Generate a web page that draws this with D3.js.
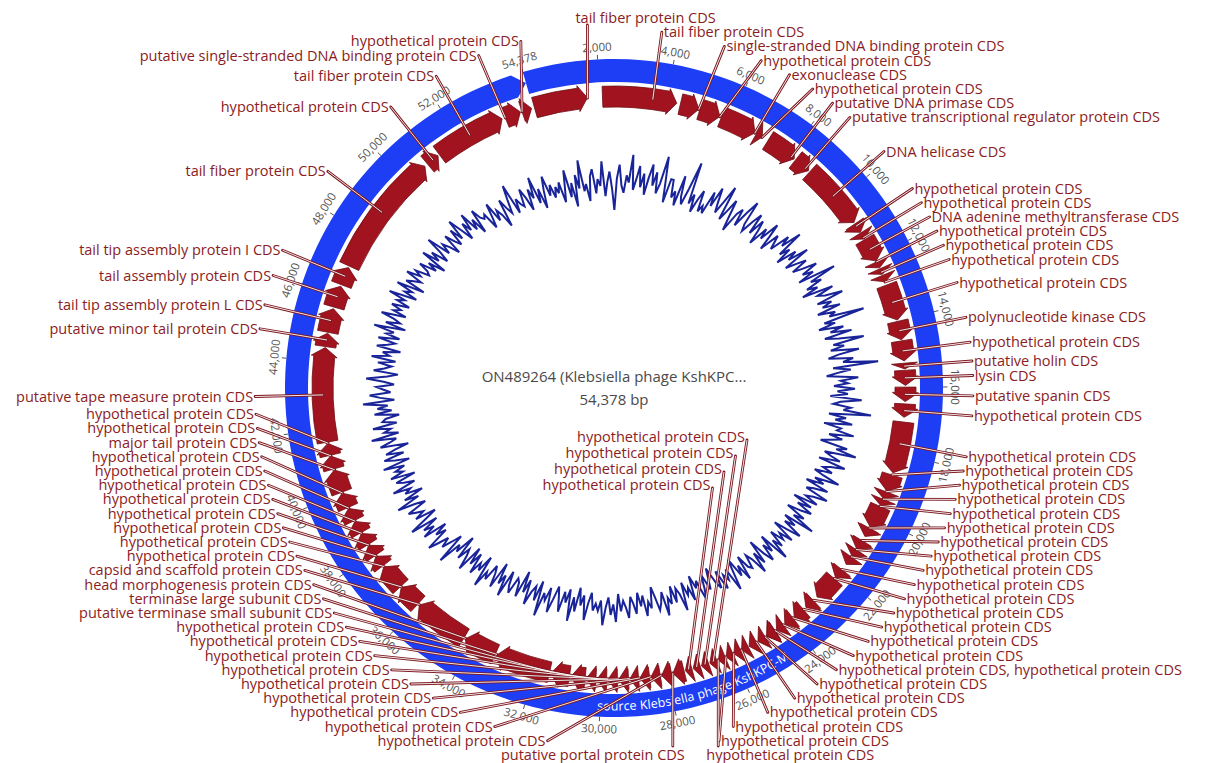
<!DOCTYPE html>
<html>
<head>
<meta charset="utf-8">
<script src="https://cdn.jsdelivr.net/npm/d3@7"></script>
<style>
  html, body { margin: 0; padding: 0; background: #fff; }
  svg { display: block; font-family: "Open Sans", "DejaVu Sans", sans-serif; }
</style>
</head>
<body>
<svg id="map" width="1214" height="763"></svg>
<script>
// ---- record ----
const genomeLength = 54378;
const recordTitle = "ON489264 (Klebsiella phage KshKPC...";
const recordSize = "54,378 bp";
const sourceLabel = "source Klebsiella phage KshKPC-M";

// ---- ruler ----
const tickValues = [2000, 4000, 6000, 8000, 10000, 12000, 14000, 16000, 18000, 20000,
  22000, 24000, 26000, 28000, 30000, 32000, 34000, 36000, 38000, 40000,
  42000, 44000, 46000, 48000, 50000, 52000];
const originLabel = "54,378";

// ---- CDS features: [start, end, product] ----
const HP = "hypothetical protein CDS";
const cdsFeatures = [
  [40, 1640, "tail fiber protein CDS"],
  [2090, 4310, "tail fiber protein CDS"],
  [4420, 4990, "single-stranded DNA binding protein CDS"],
  [5020, 5650, HP],
  [5700, 6800, "exonuclease CDS"],
  [6850, 7050, HP],
  [7250, 8200, "putative DNA primase CDS"],
  [8250, 8750, "putative transcriptional regulator protein CDS"],
  [8800, 10800, "DNA helicase CDS"],
  [10850, 11150, HP],
  [11170, 11380, HP],
  [11400, 12120, "DNA adenine methyltransferase CDS"],
  [12150, 12350, HP],
  [12380, 12560, HP],
  [12590, 12800, HP],
  [12900, 13990, HP],
  [14030, 14590, "polynucleotide kinase CDS"],
  [14620, 15220, HP],
  [15290, 15460, "putative holin CDS"],
  [15500, 15950, "lysin CDS"],
  [16000, 16430, "putative spanin CDS"],
  [16500, 16900, HP],
  [17040, 18580, HP],
  [18650, 19150, HP],
  [19180, 19400, HP],
  [19420, 19620, HP],
  [19650, 20330, HP],
  [20370, 20650, HP],
  [20800, 21100, HP],
  [21120, 21350, HP],
  [21380, 21650, HP],
  [21850, 22150, HP],
  [22200, 22950, HP],
  [23100, 23400, HP],
  [23500, 23850, HP],
  [23900, 24200, HP],
  [24250, 24500, HP],
  [24550, 24850, HP],
  [24560, 24840, HP],
  [24900, 25150, HP],
  [25200, 25450, HP],
  [25480, 25700, HP],
  [25730, 25950, HP],
  [25980, 26200, HP],
  [26230, 26450, HP],
  [26500, 26720, HP],
  [26760, 26980, HP],
  [27020, 27240, HP],
  [27280, 27480, HP],
  [27520, 27860, "putative portal protein CDS"],
  [27900, 28200, HP],
  [28240, 28520, HP],
  [28560, 28850, HP],
  [28890, 29150, HP],
  [29190, 29480, HP],
  [29520, 29800, HP],
  [29840, 30120, HP],
  [30160, 30440, HP],
  [30480, 30900, HP],
  [30950, 31500, "putative terminase small subunit CDS"],
  [31550, 33200, "terminase large subunit CDS"],
  [33250, 34250, "head morphogenesis protein CDS"],
  [34300, 35950, "capsid and scaffold protein CDS"],
  [36000, 36700, HP],
  [36730, 37500, HP],
  [37540, 37890, HP],
  [37920, 38280, HP],
  [38310, 38690, HP],
  [38720, 39100, HP],
  [39130, 39530, HP],
  [39560, 40020, HP],
  [40050, 40750, "major tail protein CDS"],
  [40780, 41180, HP],
  [41200, 41560, HP],
  [41600, 44420, "putative tape measure protein CDS"],
  [44450, 44850, "putative minor tail protein CDS"],
  [44880, 45600, "tail tip assembly protein L CDS"],
  [45650, 46300, "tail assembly protein CDS"],
  [46350, 46900, "tail tip assembly protein I CDS"],
  [46950, 50700, "tail fiber protein CDS"],
  [50800, 51200, HP],
  [51250, 53400, "tail fiber protein CDS"],
  [53500, 53980, "putative single-stranded DNA binding protein CDS"],
  [54030, 54330, HP]
];

// ---- GC content (%), one value per 100 bp window ----
const gcWindow = 100;
const gcPercent = [
  46,49,43,47,52,44,48,41,50,46,54,45,47,42,49,51,
  44,48,46,53,43,47,50,45,39,48,52,46,44,49,47,55,
  45,48,52,46,50,44,49,53,47,51,45,48,56,49,43,50,
  50,45,47,43,52,46,44,49,57,45,48,43,47,50,44,46,
  44,51,47,53,49,46,50,55,45,48,52,47,43,49,51,46,
  51,55,48,46,50,53,47,52,49,45,51,48,54,50,46,52,
  50,48,54,51,57,49,52,47,53,50,56,48,51,54,49,52,
  56,51,54,49,60,52,55,50,53,48,57,52,54,59,51,55,
  52,57,50,55,53,63,51,54,49,56,52,58,50,54,61,52,
  55,51,59,53,50,57,54,64,51,56,52,49,58,53,55,51,
  57,52,55,50,59,53,51,56,54,62,50,55,52,57,49,54,
  53,58,51,55,52,49,57,54,60,51,53,56,50,58,54,52,
  55,50,53,58,51,54,49,56,52,50,57,53,51,55,48,54,
  50,55,52,48,54,51,58,49,53,50,56,52,48,55,51,53,
  49,54,51,57,48,53,50,55,52,47,54,50,56,51,49,53,
  52,48,55,50,53,47,51,56,49,52,50,54,48,53,51,46,
  49,52,47,51,54,48,50,46,53,49,51,47,55,50,48,52,
  47,52,50,55,48,51,53,49,46,52,50,54,48,51,47,53,
  50,48,54,51,49,52,47,55,50,53,48,51,56,49,52,50,
  52,47,50,55,48,51,46,53,49,56,47,51,48,54,50,47,
  51,55,48,52,50,57,47,53,49,51,55,48,52,46,54,50,
  49,54,52,48,56,50,53,47,55,51,49,54,52,57,48,53,
  51,55,49,53,48,56,52,50,54,47,53,51,58,49,52,55,
  52,55,58,51,54,50,57,53,56,51,59,54,50,56,53,55,
  57,51,54,59,52,56,50,55,53,58,51,54,56,50,57,53,
  55,52,58,50,54,57,51,56,53,49,57,54,52,59,51,55,
  53,58,51,55,54,50,57,52,56,53,60,51,55,58,52,54,
  56,51,54,59,53,50,57,54,52,56,51,58,53,55,50,57,
  54,52,57,51,55,53,59,50,56,52,54,58,51,55,53,56,
  51,55,53,58,50,54,52,57,49,55,53,51,56,52,54,50,
  51,54,49,52,47,55,50,53,48,51,56,49,52,50,47,53,
  50,48,53,49,55,51,47,52,49,54,48,51,46,53,50,49,
  50,45,48,52,46,49,47,43,51,48,46,50,54,45,49,47,
  46,51,48,44,50,47,53,45,49,43,48,52,46,49,45,48
];

// ---- geometry ----
const W = 1214, H = 763;
const cx = 614, cy = 388;
const startAngle = -16.1;               // where base 1 sits, degrees clockwise from top
const rSrcIn = 306, rSrcOut = 329;      // source feature ring
const rCdsIn = 281, rCdsOut = 302;      // CDS track
const rAttach = 291;
const rLabel = 359, labelGap = 14.2;
const innerFrom = 26480, innerTo = 27500; // CDS labelled inside the map

const svg = d3.select("#map");
svg.append("rect").attr("width", W).attr("height", H).attr("fill", "#fff");

const deg = d3.scaleLinear().domain([0, genomeLength]).range([startAngle, startAngle + 360]);
const rad = d => d * Math.PI / 180;
const pt = (a, r) => [cx + r * Math.sin(rad(a)), cy - r * Math.cos(rad(a))];

function arcTo(a0, a1, r) {
  const sweep = a1 > a0 ? 1 : 0;
  const n = Math.max(1, Math.ceil(Math.abs(a1 - a0) / 170));
  let s = "";
  for (let i = 1; i <= n; i++) {
    const [x, y] = pt(a0 + (a1 - a0) * i / n, r);
    s += `A${r},${r} 0 0 ${sweep} ${x},${y}`;
  }
  return s;
}

function arrowPath(a0, a1, rIn, rOut, headPx, flare) {
  const rMid = (rIn + rOut) / 2;
  const headDeg = Math.min(headPx / rMid * 180 / Math.PI, a1 - a0);
  const aH = a1 - headDeg;
  const tip = pt(a1, rMid);
  if (aH - a0 > 0.01) {
    return `M${pt(a0, rOut)}` + arcTo(a0, aH, rOut) +
      `L${pt(aH, rOut + flare)}L${tip}L${pt(aH, rIn - flare)}L${pt(aH, rIn)}` +
      arcTo(aH, a0, rIn) + "Z";
  }
  return `M${pt(a0, rOut + flare)}L${tip}L${pt(a0, rIn - flare)}Z`;
}

// ---- GC content trace ----
const gcRadius = d3.scaleLinear().domain([40, 64]).range([181.5, 265.5]);
const gcLine = d3.lineRadial()
  .angle(d => rad(deg(d.bp)))
  .radius(d => gcRadius(d.v))
  .curve(d3.curveLinearClosed);
const gcData = gcPercent.map((v, i) => ({ bp: i * gcWindow + gcWindow / 2, v }));
svg.append("path")
  .attr("transform", `translate(${cx},${cy})`)
  .attr("d", gcLine(gcData))
  .attr("fill", "none")
  .attr("stroke", "#1a2499")
  .attr("stroke-width", 2)
  .attr("stroke-linejoin", "miter");

// ---- source ring ----
svg.append("path")
  .attr("d", arrowPath(deg(0), deg(genomeLength), rSrcIn, rSrcOut, 12, 0))
  .attr("fill", "#1d3ef4");

const srcMid = (rSrcIn + rSrcOut) / 2;
const [sx0, sy0] = pt(190, srcMid), [sx1, sy1] = pt(140, srcMid);
svg.append("path").attr("id", "srcArc").attr("fill", "none")
  .attr("d", `M${sx0},${sy0}A${srcMid},${srcMid} 0 0 0 ${sx1},${sy1}`);
svg.append("text")
  .attr("font-size", 12.5).attr("fill", "#fff").attr("dominant-baseline", "central")
  .append("textPath").attr("href", "#srcArc").attr("startOffset", "50%")
  .attr("text-anchor", "middle").text(sourceLabel);

// ---- CDS arrows ----
svg.append("g").selectAll("path").data(cdsFeatures).join("path")
  .attr("d", d => arrowPath(deg(d[0]), deg(d[1]), rCdsIn, rCdsOut, 9, 2.5))
  .attr("fill", "#a1141f")
  .attr("stroke", "#6e0c13")
  .attr("stroke-width", 0.8)
  .attr("stroke-linejoin", "round");

// ---- ruler ticks ----
const ruler = svg.append("g");
const tickData = tickValues.map(v => ({ v, text: d3.format(",")(v) }))
  .concat([{ v: 0, text: originLabel }]);
tickData.forEach(t => {
  const a = deg(t.v);
  const [x0, y0] = pt(a, rSrcOut), [x1, y1] = pt(a, rSrcOut + 4.5);
  ruler.append("line").attr("x1", x0).attr("y1", y0).attr("x2", x1).attr("y2", y1)
    .attr("stroke", "#555").attr("stroke-width", 1);
  const [lx, ly] = pt(a, 341);
  const an = ((a % 360) + 360) % 360;
  const rot = (an > 90 && an < 270) ? an - 180 : an;
  ruler.append("text").attr("x", lx).attr("y", ly)
    .attr("transform", `rotate(${rot},${lx},${ly})`)
    .attr("text-anchor", "middle").attr("dy", "0.35em")
    .attr("font-size", 11.5).attr("fill", "#555").text(t.text);
});

// ---- label layout ----
const groups = [];
cdsFeatures.forEach(([s, e, name]) => {
  const last = groups[groups.length - 1];
  if (last && Math.min(e, last.end) - Math.max(s, last.start) > 0.5 * (e - s)) {
    last.names.push(name);
    last.start = Math.min(last.start, s);
    last.end = Math.max(last.end, e);
  } else {
    groups.push({ start: s, end: e, names: [name] });
  }
});
groups.forEach(g => {
  g.text = g.names.join(", ");
  g.mid = (g.start + g.end) / 2;
  g.a0 = deg(g.start); g.a1 = deg(g.end); g.am = deg(g.mid);
});

const rightCol = groups.filter(g => g.mid < innerFrom);
const innerCol = groups.filter(g => g.mid >= innerFrom && g.mid < innerTo);
const leftCol = groups.filter(g => g.mid >= innerTo).reverse();

rightCol.forEach(g => g.ideal = cy - rLabel * Math.cos(rad(Math.min(g.am, 180))));
leftCol.forEach(g => g.ideal = cy - rLabel * Math.cos(rad(Math.max(g.am, 180))));

function stack(items, ymin, ymax, gap) {
  const clusters = [];
  const place = c => {
    const n = c.items.length;
    const t = d3.mean(c.items, (it, i) => it.ideal - i * gap);
    c.top = Math.max(ymin, Math.min(ymax - (n - 1) * gap, t));
  };
  items.forEach(it => {
    const c = { items: [it] };
    place(c);
    clusters.push(c);
    while (clusters.length > 1) {
      const b = clusters[clusters.length - 1], a = clusters[clusters.length - 2];
      if (a.top + a.items.length * gap > b.top + 1e-6) {
        a.items = a.items.concat(b.items);
        clusters.pop();
        place(a);
      } else break;
    }
  });
  clusters.forEach(c => c.items.forEach((it, i) => it.y = c.top + i * gap));
}
stack(rightCol, 18, 755, labelGap);
stack(leftCol, 33, 755, labelGap);

const norm = a => {
  while (a < startAngle) a += 360;
  while (a >= startAngle + 360) a -= 360;
  return a;
};
const clamp = (v, lo, hi) => Math.max(lo, Math.min(hi, v));

const labels = [];
function sideLabel(g, side) {
  const dy = g.y - cy;
  if (Math.abs(dy) > rLabel) {
    const target = norm(dy < 0 ? 0 : 180);
    const p = pt(clamp(target, g.a0, g.a1), rAttach);
    labels.push({
      text: g.text, x: side > 0 ? p[0] - 12 : p[0] + 12, y: g.y,
      anchor: side > 0 ? "start" : "end",
      from: [p[0], g.y + (dy < 0 ? 7 : -9)], to: p
    });
    return;
  }
  let dx = Math.sqrt(rLabel * rLabel - dy * dy);
  if (side > 0 && dy > 0) dx = Math.max(dx, 105);
  const ax = cx + side * dx;
  const phi = norm(Math.atan2(ax - cx, cy - g.y) * 180 / Math.PI);
  const p = pt(clamp(phi, g.a0, g.a1), rAttach);
  labels.push({
    text: g.text, x: ax + side * 2, y: g.y,
    anchor: side > 0 ? "start" : "end",
    from: [ax, g.y], to: p
  });
}
rightCol.forEach(g => sideLabel(g, 1));
leftCol.forEach(g => sideLabel(g, -1));
innerCol.forEach((g, i) => {
  const y = 437 + i * 16, xe = 745 - i * 11.5;
  labels.push({
    text: g.text, x: xe, y, anchor: "end",
    from: [xe + 2, y + 3], to: pt(g.am, rAttach)
  });
});

// connectors: dark rule with a white core
const conn = svg.append("g");
conn.selectAll("line.o").data(labels).join("line").attr("class", "o")
  .attr("x1", d => d.from[0]).attr("y1", d => d.from[1])
  .attr("x2", d => d.to[0]).attr("y2", d => d.to[1])
  .attr("stroke", "#7d1820").attr("stroke-width", 2.8).attr("stroke-linecap", "round");
conn.selectAll("line.i").data(labels).join("line").attr("class", "i")
  .attr("x1", d => d.from[0]).attr("y1", d => d.from[1])
  .attr("x2", d => d.to[0]).attr("y2", d => d.to[1])
  .attr("stroke", "#fff").attr("stroke-width", 0.9);

svg.append("g").selectAll("text").data(labels).join("text")
  .attr("x", d => d.x).attr("y", d => d.y).attr("dy", "0.35em")
  .attr("text-anchor", d => d.anchor)
  .attr("font-size", 14.5).attr("fill", "#8a1c23")
  .text(d => d.text);

// ---- centre caption ----
svg.append("text").attr("x", cx).attr("y", 377).attr("dy", "0.35em")
  .attr("text-anchor", "middle").attr("font-size", 15).attr("fill", "#4a4a4a")
  .text(recordTitle);
svg.append("text").attr("x", cx).attr("y", 400).attr("dy", "0.35em")
  .attr("text-anchor", "middle").attr("font-size", 15).attr("fill", "#4a4a4a")
  .text(recordSize);
</script>
</body>
</html>
